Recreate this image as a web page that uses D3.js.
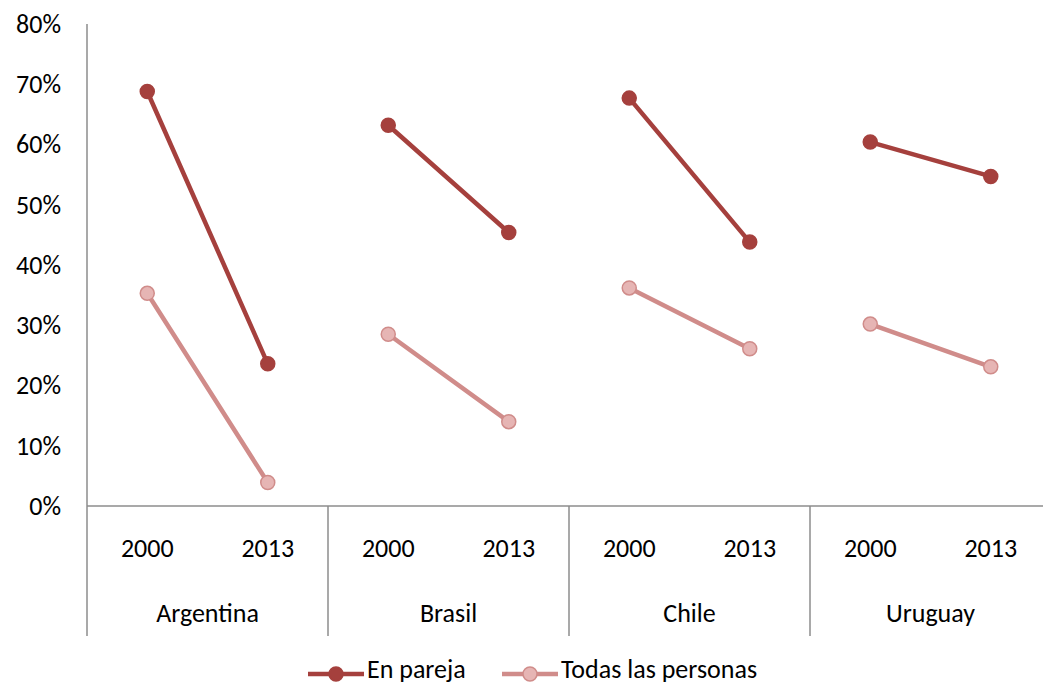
<!DOCTYPE html>
<html>
<head>
<meta charset="utf-8">
<script src="https://cdn.jsdelivr.net/npm/d3@7"></script>
<style>
  html, body { margin: 0; padding: 0; background: #fff; }
  svg { display: block; font-family: Carlito, Lato, "Open Sans", sans-serif; }
</style>
</head>
<body>
<svg id="chart" width="1043" height="686"></svg>
<script>
// Countries and the two survey years for each
const countries = ["Argentina", "Brasil", "Chile", "Uruguay"];
const years = ["2000", "2013"];

// Share (%) per country, [2000, 2013]
const enPareja = [[68.8, 23.6], [63.2, 45.4], [67.7, 43.8], [60.4, 54.7]];
const todasLasPersonas = [[35.3, 3.9], [28.5, 14.0], [36.2, 26.1], [30.2, 23.1]];

const yTicks = [0, 10, 20, 30, 40, 50, 60, 70, 80];
const seriesNames = ["En pareja", "Todas las personas"];

const svg = d3.select("#chart");
const plotLeft = 87, plotTop = 24, plotBottom = 506, axisEnd = 636;
const fontSize = 26;

const x = d3.scaleBand().domain(countries).range([plotLeft, plotLeft + 241 * 4]).padding(0);
const xi = d3.scalePoint().domain(years).range([0, x.bandwidth()]).padding(0.5);
const y = d3.scaleLinear().domain([0, 80]).range([plotBottom, plotTop]);

const axisColor = "#8c8c8c";

// Vertical axis
const yAxis = svg.append("g")
  .attr("transform", `translate(${plotLeft},0)`)
  .call(d3.axisLeft(y).tickValues(yTicks).tickSize(0).tickPadding(26).tickFormat(d => d + "%"));
yAxis.select(".domain").remove();
yAxis.selectAll("text").attr("font-size", fontSize).attr("fill", "#000")
  .attr("font-family", "Carlito, Lato, 'Open Sans', sans-serif");

svg.append("line").attr("x1", plotLeft).attr("x2", plotLeft).attr("y1", plotTop).attr("y2", axisEnd)
  .attr("stroke", axisColor).attr("stroke-width", 1.5);

// Baseline
svg.append("line").attr("x1", plotLeft).attr("x2", 1043).attr("y1", plotBottom).attr("y2", plotBottom)
  .attr("stroke", axisColor).attr("stroke-width", 1.5);

// Country separators and labels
countries.forEach((c, i) => {
  const x0 = x(c);
  if (i > 0) {
    svg.append("line").attr("x1", x0).attr("x2", x0).attr("y1", plotBottom).attr("y2", axisEnd)
      .attr("stroke", axisColor).attr("stroke-width", 1.5);
  }
  years.forEach(yr => {
    svg.append("text").attr("x", x0 + xi(yr)).attr("y", 557)
      .attr("text-anchor", "middle").attr("font-size", fontSize).attr("fill", "#000").text(yr);
  });
  svg.append("text").attr("x", x0 + x.bandwidth() / 2).attr("y", 621.5)
    .attr("text-anchor", "middle").attr("font-size", fontSize).attr("fill", "#000").text(c);
});

const styles = [
  { line: "#A5403D", fill: "#A5403D", stroke: "#A5403D" },
  { line: "#D08C8A", fill: "#E6B5B4", stroke: "#D08C8A" }
];

const line = d3.line().x(d => d[0]).y(d => d[1]);

[enPareja, todasLasPersonas].forEach((series, si) => {
  const st = styles[si];
  const g = svg.append("g");
  countries.forEach((c, ci) => {
    const pts = years.map((yr, yi) => [x(c) + xi(yr), y(series[ci][yi])]);
    g.append("path").attr("d", line(pts)).attr("fill", "none")
      .attr("stroke", st.line).attr("stroke-width", 4.5).attr("stroke-linecap", "round");
    g.selectAll(null).data(pts).enter().append("circle")
      .attr("cx", d => d[0]).attr("cy", d => d[1]).attr("r", 7)
      .attr("fill", st.fill).attr("stroke", st.stroke).attr("stroke-width", 1.5);
  });
});

// Legend
const legendItems = [{ x: 308, label: seriesNames[0] }, { x: 502, label: seriesNames[1] }];
legendItems.forEach((item, i) => {
  const st = styles[i];
  const g = svg.append("g").attr("transform", `translate(${item.x},674)`);
  g.append("line").attr("x1", 0).attr("x2", 56).attr("y1", 0).attr("y2", 0)
    .attr("stroke", st.line).attr("stroke-width", 4.5);
  g.append("circle").attr("cx", 28).attr("cy", 0).attr("r", 7)
    .attr("fill", st.fill).attr("stroke", st.stroke).attr("stroke-width", 1.5);
  g.append("text").attr("x", 59).attr("y", 4).attr("font-size", fontSize).attr("fill", "#000").text(item.label);
});
</script>
</body>
</html>
